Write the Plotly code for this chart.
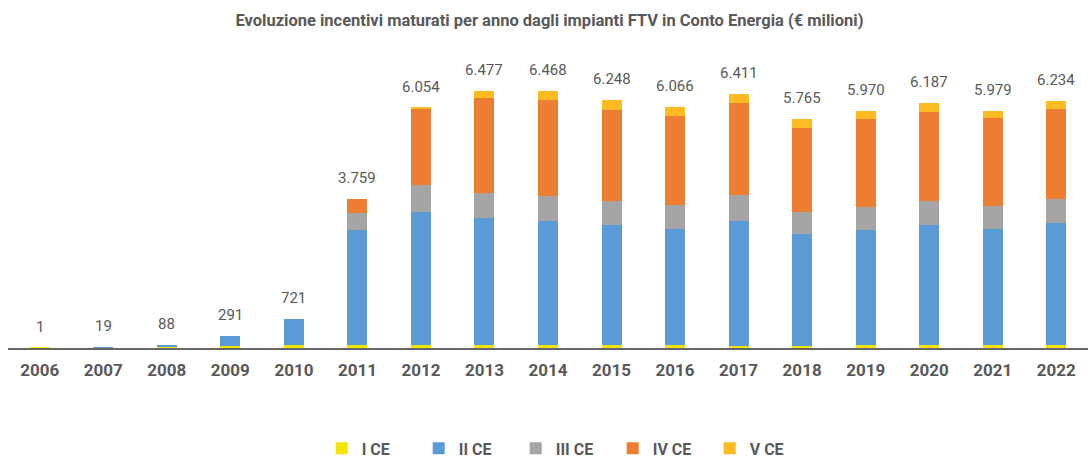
import plotly.graph_objects as go

years = ["2006", "2007", "2008", "2009", "2010", "2011", "2012", "2013", "2014",
         "2015", "2016", "2017", "2018", "2019", "2020", "2021", "2022"]
i_ce = [1, 0, 30, 60, 66, 68, 68, 68, 68, 68, 68, 45, 43, 68, 68, 68, 68]
ii_ce = [0, 19, 58, 231, 655, 2918, 3358, 3209, 3124, 3030, 2923, 3165, 2832, 2910, 3027, 2919, 3074]
iii_ce = [0, 0, 0, 0, 0, 420, 680, 630, 638, 605, 605, 638, 554, 580, 605, 580, 605]
iv_ce = [0, 0, 0, 0, 0, 353, 1923, 2394, 2411, 2293, 2243, 2336, 2117, 2218, 2260, 2218, 2268]
v_ce = [0, 0, 0, 0, 0, 0, 25, 176, 227, 252, 227, 227, 219, 194, 227, 194, 219]
totals = [1, 19, 88, 291, 721, 3759, 6054, 6477, 6468, 6248, 6066, 6411, 5765, 5970, 6187, 5979, 6234]
total_labels = ["1", "19", "88", "291", "721", "3.759", "6.054", "6.477", "6.468", "6.248",
                "6.066", "6.411", "5.765", "5.970", "6.187", "5.979", "6.234"]

series = [
    ("I CE", i_ce, "#F5E300"),
    ("II CE", ii_ce, "#5B9BD5"),
    ("III CE", iii_ce, "#A5A5A5"),
    ("IV CE", iv_ce, "#ED7D31"),
    ("V CE", v_ce, "#FDBA21"),
]

GREY = "#595959"
FONT = "Roboto"

fig = go.Figure()
for name, vals, col in series:
    fig.add_trace(go.Bar(x=years, y=vals, name=name, marker=dict(color=col, line=dict(width=0)),
                         hoverinfo="skip"))

# category axis: annotations positioned by category index
for idx, (tot, lab) in enumerate(zip(totals, total_labels)):
    fig.add_annotation(x=idx, y=tot, xref="x", yref="y", text=lab, showarrow=False,
                       yanchor="bottom", yshift=10,
                       font=dict(family=FONT, size=15, color=GREY))

fig.update_layout(
    width=1088, height=456,
    barmode="stack", bargap=0.685,
    plot_bgcolor="white", paper_bgcolor="white",
    margin=dict(l=8, r=0, t=70, b=108, autoexpand=False),
    title=dict(text="<b>Evoluzione incentivi maturati per anno dagli impianti FTV in Conto Energia (€ milioni)</b>",
               x=0.505, xanchor="center", y=0.955, yanchor="middle",
               font=dict(family=FONT, size=16.5, color=GREY)),
    font=dict(family=FONT, color=GREY),
    showlegend=True,
    legend=dict(orientation="h", x=0.515, xanchor="center", y=-0.30, yanchor="top",
                font=dict(family=FONT, size=16, color=GREY, weight="bold"),
                itemwidth=30, entrywidth=52, entrywidthmode="pixels", traceorder="normal"),
)
fig.update_xaxes(type="category", categoryorder="array", categoryarray=years,
                 showgrid=False, showline=True, linecolor="#666666", linewidth=1.5,
                 ticks="", ticklabelstandoff=6,
                 tickfont=dict(family=FONT, size=17, color=GREY, weight="bold"))
fig.update_yaxes(range=[0, 7006], visible=False, showgrid=False)

fig.write_html("out.html", config={"displayModeBar": False},
               post_script="document.body.style.margin='0';")
